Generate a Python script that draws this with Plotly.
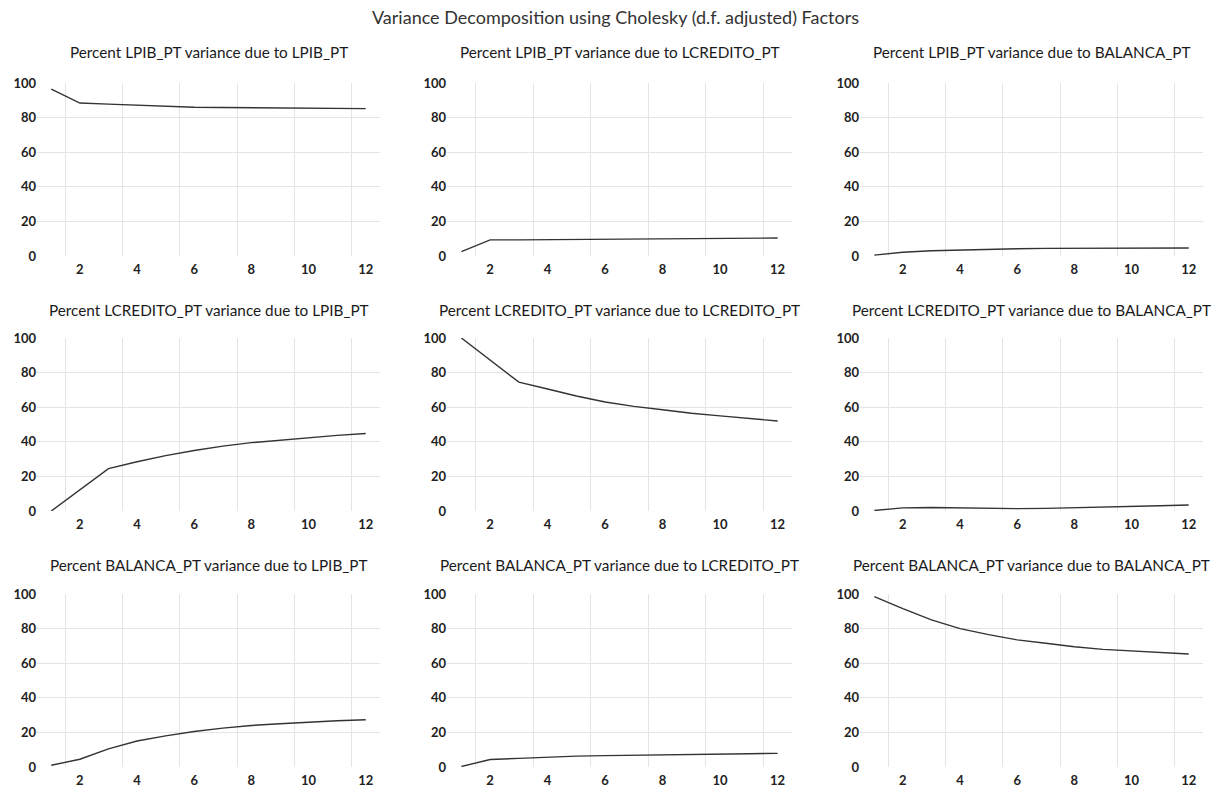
import plotly.graph_objects as go

periods = list(range(1, 13))
xtick_vals = [2, 4, 6, 8, 10, 12]
xtick_text = ["2", "4", "6", "8", "10", "12"]
ytick_vals = [0, 20, 40, 60, 80, 100]
ytick_text = ["0", "20", "40", "60", "80", "100"]

main_title = "Variance Decomposition using Cholesky (d.f. adjusted) Factors"

titles = [
    "Percent LPIB_PT variance due to LPIB_PT",
    "Percent LPIB_PT variance due to LCREDITO_PT",
    "Percent LPIB_PT variance due to BALANCA_PT",
    "Percent LCREDITO_PT variance due to LPIB_PT",
    "Percent LCREDITO_PT variance due to LCREDITO_PT",
    "Percent LCREDITO_PT variance due to BALANCA_PT",
    "Percent BALANCA_PT variance due to LPIB_PT",
    "Percent BALANCA_PT variance due to LCREDITO_PT",
    "Percent BALANCA_PT variance due to BALANCA_PT",
]

lpib_lpib = [96.5, 88.4, 87.8, 87.2, 86.5, 86.0, 85.8, 85.6, 85.5, 85.4, 85.3, 85.2]
lpib_lcred = [2.5, 9.3, 9.3, 9.4, 9.6, 9.7, 9.7, 9.8, 9.8, 9.9, 10.2, 10.4]
lpib_bal = [0.5, 2.2, 3.0, 3.5, 4.0, 4.2, 4.4, 4.5, 4.5, 4.5, 4.6, 4.6]
lcred_lpib = [0.0, 12.0, 24.5, 28.5, 32.0, 35.0, 37.5, 39.5, 41.0, 42.5, 43.7, 44.8]
lcred_lcred = [100.0, 87.0, 74.5, 70.5, 66.5, 63.0, 60.5, 58.5, 56.5, 55.0, 53.5, 52.0]
lcred_bal = [0.3, 1.8, 2.0, 1.7, 1.4, 1.4, 1.5, 1.8, 2.0, 2.4, 3.0, 3.5]
bal_lpib = [1.0, 4.5, 10.5, 15.0, 18.0, 20.5, 22.5, 24.0, 25.0, 26.0, 26.7, 27.3]
bal_lcred = [0.3, 4.3, 5.0, 5.8, 6.3, 6.6, 6.9, 7.1, 7.3, 7.5, 7.7, 7.9]
bal_bal = [98.5, 91.5, 85.0, 80.0, 76.5, 73.5, 71.5, 69.5, 68.0, 67.0, 66.0, 65.3]

series = [lpib_lpib, lpib_lcred, lpib_bal,
          lcred_lpib, lcred_lcred, lcred_bal,
          bal_lpib, bal_lcred, bal_bal]

W, H = 1217, 787
col_px = [(37, 380), (447, 792), (860, 1203)]
row_px = [(83, 256), (338, 511), (594, 767)]
title_y_px = [52, 310, 565]

FONT = "Lato"
GRID = "#e4e4e4"
fig = go.Figure()
layout = {}
annotations = []
for i, (ttl, ys) in enumerate(zip(titles, series)):
    r, c = divmod(i, 3)
    n = i + 1
    xa = "x" if n == 1 else f"x{n}"
    ya = "y" if n == 1 else f"y{n}"
    fig.add_trace(go.Scatter(x=periods, y=ys, mode="lines",
                             line=dict(color="#333333", width=1.4),
                             xaxis=xa, yaxis=ya, showlegend=False,
                             hoverinfo="skip"))
    x0, x1 = col_px[c]
    y0, y1 = row_px[r]
    layout["xaxis" if n == 1 else f"xaxis{n}"] = dict(
        domain=[x0 / W, x1 / W], anchor=ya, range=[0.5, 12.5],
        tickmode="array", tickvals=xtick_vals, ticktext=xtick_text,
        showgrid=False, zeroline=False, showline=False, ticks="",
        automargin=False, ticklabelstandoff=4,
        tickfont=dict(family=FONT, size=13, color="#222222", weight="bold"),
        minor=dict(tickmode="array", tickvals=[v - 0.5 for v in xtick_vals],
                   showgrid=True, gridcolor=GRID, gridwidth=1, ticks=""),
        fixedrange=True,
    )
    layout["yaxis" if n == 1 else f"yaxis{n}"] = dict(
        domain=[1 - y1 / H, 1 - y0 / H], anchor=xa, range=[0, 100],
        tickmode="array", tickvals=ytick_vals, ticktext=ytick_text,
        showgrid=False, zeroline=False, showline=False, ticks="",
        automargin=False,
        tickfont=dict(family=FONT, size=13, color="#222222", weight="bold"),
        minor=dict(tickmode="array", tickvals=ytick_vals[1:-1],
                   showgrid=True, gridcolor=GRID, gridwidth=1, ticks=""),
        fixedrange=True,
    )
    annotations.append(dict(
        text=ttl, xref="paper", yref="paper",
        x=(x0 + x1) / 2 / W, y=1 - title_y_px[r] / H,
        xanchor="center", yanchor="middle", showarrow=False,
        font=dict(family=FONT, size=15.3, color="#1a1a1a"),
    ))

annotations.append(dict(
    text=main_title, xref="paper", yref="paper",
    x=615 / W, y=1 - 17 / H, xanchor="center", yanchor="middle",
    showarrow=False, font=dict(family=FONT, size=18, color="#333333"),
))

fig.update_layout(
    width=W, height=H, margin=dict(l=0, r=0, t=0, b=0),
    paper_bgcolor="white", plot_bgcolor="white",
    annotations=annotations, **layout,
)

fig.write_html("out.html",
               config={"displayModeBar": False, "staticPlot": True},
               post_script="document.body.style.margin='0';document.body.style.padding='0';document.body.style.overflow='hidden';")
